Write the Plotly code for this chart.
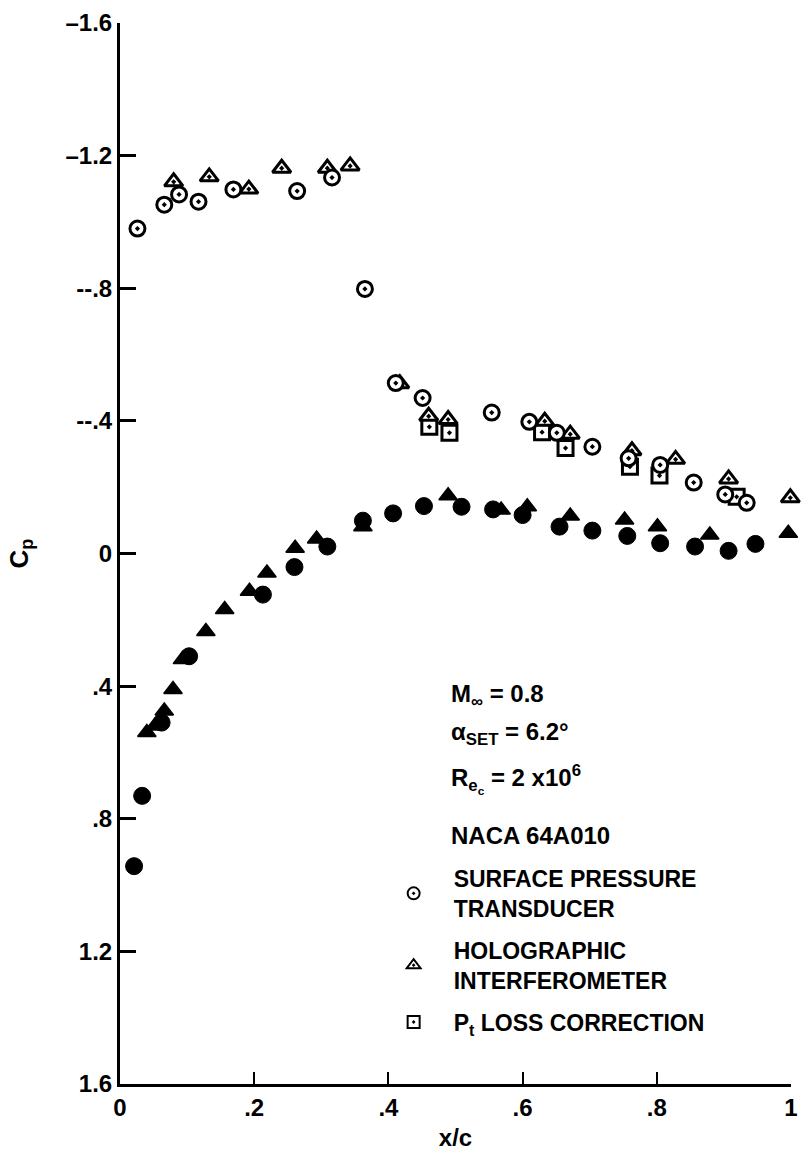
import plotly.graph_objects as go

# ---------------- data ----------------
# Upper surface, surface pressure transducer (open circles)
x_sp_upper = [0.026, 0.066, 0.088, 0.117, 0.169, 0.264, 0.316, 0.365, 0.411, 0.451,
              0.554, 0.610, 0.651, 0.704, 0.758, 0.805, 0.855, 0.902, 0.934, 1.006]
cp_sp_upper = [-0.980, -1.052, -1.083, -1.061, -1.098, -1.093, -1.134, -0.798, -0.514, -0.469,
               -0.425, -0.397, -0.364, -0.322, -0.287, -0.267, -0.214, -0.178, -0.153, -0.093]

# Upper surface, holographic interferometer (open triangles)
x_hi_upper = [0.080, 0.133, 0.192, 0.241, 0.309, 0.343, 0.417, 0.460, 0.489, 0.633,
              0.671, 0.763, 0.828, 0.907, 0.999]
cp_hi_upper = [-1.121, -1.136, -1.099, -1.162, -1.162, -1.169, -0.512, -0.414, -0.404, -0.399,
               -0.360, -0.310, -0.284, -0.225, -0.168]

# Pt loss correction (open squares)
x_pt = [0.461, 0.491, 0.629, 0.664, 0.760, 0.804, 0.919]
cp_pt = [-0.382, -0.364, -0.366, -0.318, -0.262, -0.235, -0.171]

# Lower surface, surface pressure transducer (filled circles)
x_sp_lower = [0.021, 0.033, 0.062, 0.103, 0.213, 0.260, 0.309, 0.362, 0.407, 0.453,
              0.509, 0.556, 0.600, 0.655, 0.704, 0.756, 0.805, 0.857, 0.907, 0.947]
cp_sp_lower = [0.943, 0.731, 0.510, 0.310, 0.124, 0.041, -0.021, -0.099, -0.121, -0.143,
               -0.141, -0.133, -0.116, -0.081, -0.069, -0.053, -0.031, -0.021, -0.008, -0.029]

# Lower surface, holographic interferometer (filled triangles)
x_hi_lower = [0.040, 0.052, 0.066, 0.079, 0.093, 0.128, 0.156, 0.193, 0.219, 0.261,
              0.293, 0.362, 0.489, 0.568, 0.607, 0.671, 0.752, 0.801, 0.879, 0.996]
cp_hi_lower = [0.540, 0.520, 0.475, 0.410, 0.320, 0.235, 0.169, 0.114, 0.059, -0.016,
               -0.044, -0.081, -0.174, -0.131, -0.141, -0.113, -0.101, -0.081, -0.056, -0.061]

x_tickvals = [0, 0.2, 0.4, 0.6, 0.8, 1.0]
x_ticktext = ["0", ".2", ".4", ".6", ".8", "1"]
y_tickvals = [-1.6, -1.2, -0.8, -0.4, 0, 0.4, 0.8, 1.2, 1.6]
y_ticktext = ["\u20131.6", "\u20131.2", "--.8", "--.4", "0", ".4", ".8", "1.2", "1.6"]

FONT = "Liberation Sans, Arial, Helvetica, sans-serif"
BLACK = "black"
TXT = dict(family=FONT, size=24, color=BLACK, weight="bold")

fig = go.Figure()

# lower surface (filled)
fig.add_trace(go.Scatter(x=x_hi_lower, y=cp_hi_lower, mode="markers", showlegend=False,
                         cliponaxis=False,
                         marker=dict(symbol="triangle-up", size=16, color=BLACK,
                                     line=dict(color=BLACK, width=1.5))))
fig.add_trace(go.Scatter(x=x_sp_lower, y=cp_sp_lower, mode="markers", showlegend=False,
                         cliponaxis=False,
                         marker=dict(symbol="circle", size=17, color=BLACK,
                                     line=dict(color=BLACK, width=1))))

# upper surface (open, with centre dot)
fig.add_trace(go.Scatter(x=x_pt, y=cp_pt, mode="markers", cliponaxis=False,
                         name="P<sub>t</sub> LOSS CORRECTION", legendgroup="c", legendrank=3,
                         marker=dict(symbol="square-dot", size=15, color="white",
                                     line=dict(color=BLACK, width=3))))
fig.add_trace(go.Scatter(x=x_hi_upper, y=cp_hi_upper, mode="markers", cliponaxis=False,
                         name="HOLOGRAPHIC<br>INTERFEROMETER", legendgroup="b", legendrank=2,
                         marker=dict(symbol="triangle-up-dot", size=16, color="white",
                                     line=dict(color=BLACK, width=3))))
fig.add_trace(go.Scatter(x=x_sp_upper, y=cp_sp_upper, mode="markers", cliponaxis=False,
                         name="SURFACE PRESSURE<br>TRANSDUCER", legendgroup="a", legendrank=1,
                         marker=dict(symbol="circle-dot", size=15, color="white",
                                     line=dict(color=BLACK, width=3))))

notes = [
    ("M<sub>\u221e</sub> = 0.8", 0.428),
    ("\u03b1<sub>SET</sub> = 6.2\u00b0", 0.543),
    ("R<sub>e<sub>c</sub></sub> = 2 x10<sup>6</sup>", 0.680),
    ("NACA 64A010", 0.850),
]
for txt, yy in notes:
    fig.add_annotation(x=0.491, y=yy, xref="x", yref="y", text=txt, showarrow=False,
                       xanchor="left", yanchor="middle", font=TXT)

fig.update_layout(
    width=805, height=1158,
    margin=dict(l=120, r=7, t=23, b=74),
    paper_bgcolor="white", plot_bgcolor="white",
    font=TXT,
    showlegend=True,
    legend=dict(x=0.378, y=0.214, xanchor="left", yanchor="top", itemwidth=70,
                bgcolor="rgba(0,0,0,0)",
                font=dict(family=FONT, size=23, color=BLACK, weight="bold"),
                tracegroupgap=9, itemsizing="constant", traceorder="grouped"),
)

fig.update_xaxes(range=[0, 1], tickvals=x_tickvals, ticktext=x_ticktext,
                 showgrid=False, zeroline=False, showline=True, linewidth=3, linecolor=BLACK,
                 ticks="inside", ticklen=12, tickwidth=2, tickcolor=BLACK,
                 tickfont=TXT,
                 title=dict(text="x/c", font=TXT, standoff=10))
fig.update_yaxes(range=[1.6, -1.6], tickvals=y_tickvals, ticktext=y_ticktext,
                 showgrid=False, zeroline=False, showline=True, linewidth=3, linecolor=BLACK,
                 ticks="inside", ticklen=16, tickwidth=3, tickcolor=BLACK,
                 tickfont=TXT,
                 title=dict(text="C<sub>p</sub>",
                            font=dict(family=FONT, size=26, color=BLACK, weight="bold"),
                            standoff=30))

fig.write_html("out.html")
